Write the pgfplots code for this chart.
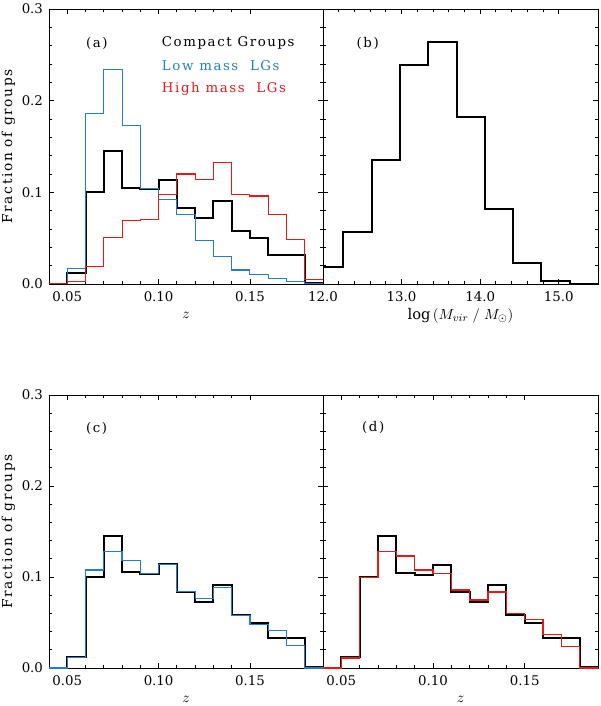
\documentclass[border=0pt]{standalone}
\usepackage{fontspec}
\setmainfont{DejaVu Serif}
\newfontfamily\lsfont{DejaVu Serif}[LetterSpace=12]
\usepackage{pgfplots}
\pgfplotsset{compat=1.18}
\definecolor{myblue}{RGB}{35,125,200}
\definecolor{myred}{RGB}{230,25,25}
\pgfplotsset{
  base/.style={scale only axis, anchor=south west,
    ymin=0, ymax=0.3, ytick={0,0.1,0.2,0.3}, minor y tick num=4,
    scaled ticks=false,
    major tick length=4pt, minor tick length=2.3pt,
    every tick/.style={black, line width=0.6pt},
    axis line style={line width=0.6pt},
    /pgf/number format/assume math mode=true,
    tick label style={font=\fontsize{10}{12}\selectfont},
    yticklabel style={/pgf/number format/fixed, /pgf/number format/fixed zerofill, /pgf/number format/precision=1},
    xticklabel shift=2pt, yticklabel shift=1pt,
    xlabel style={at={(axis description cs:0.5,-0.115)}, anchor=center, font=\fontsize{11}{13}\selectfont},
    ylabel style={at={(axis description cs:-0.148,0.5)}, anchor=center, font=\lsfont\fontsize{10.3}{12}\selectfont},
    clip=true},
  zax/.style={xmin=0.04, xmax=0.19, xtick={0.05,0.10,0.15}, minor x tick num=4,
    xticklabel style={/pgf/number format/fixed, /pgf/number format/fixed zerofill, /pgf/number format/precision=2},
    xlabel={$z$}},
  blk/.style={const plot, black, line width=1.5pt},
}
\begin{document}
\begin{tikzpicture}
% (a)
\begin{axis}[base, zax, at={(36.75pt,316.5pt)}, width=205.5pt, height=206.25pt,
  ylabel={Fraction of groups}]
\addplot[blk] coordinates {(0.04,0) (0.05,0.0120) (0.06,0.100) (0.07,0.145) (0.08,0.1045) (0.09,0.1035) (0.10,0.1138) (0.11,0.0830) (0.12,0.0720) (0.13,0.0910) (0.14,0.0580) (0.15,0.0505) (0.16,0.0318) (0.17,0.0318) (0.18,0.0015) (0.19,0.0015)};
\addplot[const plot, myblue, line width=0.8pt] coordinates {(0.04,0) (0.05,0.0165) (0.06,0.186) (0.07,0.234) (0.08,0.173) (0.09,0.104) (0.10,0.0925) (0.11,0.0760) (0.12,0.0475) (0.13,0.0300) (0.14,0.0153) (0.15,0.0100) (0.16,0.0060) (0.17,0.0025) (0.18,0.0010) (0.19,0.0010)};
\addplot[const plot, myred, line width=0.8pt] coordinates {(0.04,0) (0.05,0.0025) (0.06,0.0195) (0.07,0.0510) (0.08,0.0690) (0.09,0.0706) (0.10,0.0980) (0.11,0.1200) (0.12,0.1136) (0.13,0.1325) (0.14,0.0980) (0.15,0.0960) (0.16,0.0754) (0.17,0.0485) (0.18,0.0045) (0.19,0.0045)};
\node[anchor=west, font=\lsfont] at (rel axis cs:0.118,0.876) {(a)};
\node[anchor=west, font=\lsfont, black] at (rel axis cs:0.395,0.876) {Compact Groups};
\node[anchor=west, font=\lsfont, myblue] at (rel axis cs:0.395,0.793) {Low mass\ \ LGs};
\node[anchor=west, font=\lsfont, myred] at (rel axis cs:0.395,0.709) {High mass\ \ LGs};
\end{axis}
% (b)
\begin{axis}[base, at={(242.25pt,316.5pt)}, width=206.25pt, height=206.25pt,
  yticklabels={}, xmin=12.0, xmax=15.5, xtick={12,13,14,15}, minor x tick num=4,
  xticklabel style={/pgf/number format/fixed, /pgf/number format/fixed zerofill, /pgf/number format/precision=1},
  xlabel={log\,$(M_{vir}\;/\;M_{\odot})$}]
\addplot[blk] coordinates {(11.90,0.019) (12.26,0.0564) (12.62,0.135) (12.98,0.239) (13.34,0.2636) (13.70,0.1817) (14.06,0.0815) (14.42,0.0226) (14.78,0.0030) (15.14,0.0005) (15.50,0.0005)};
\node[anchor=west, font=\lsfont] at (rel axis cs:0.105,0.876) {(b)};
\end{axis}
% (c)
\begin{axis}[base, zax, at={(36.75pt,28.5pt)}, width=205.5pt, height=204.75pt,
  ylabel={Fraction of groups}]
\addplot[blk] coordinates {(0.04,0) (0.05,0.0117) (0.06,0.100) (0.07,0.145) (0.08,0.105) (0.09,0.1036) (0.10,0.114) (0.11,0.083) (0.12,0.072) (0.13,0.091) (0.14,0.0577) (0.15,0.0500) (0.16,0.0325) (0.17,0.0325) (0.18,0.0010) (0.19,0.0010)};
\addplot[const plot, myblue, line width=0.9pt] coordinates {(0.04,0) (0.05,0.0117) (0.06,0.1077) (0.07,0.1277) (0.08,0.118) (0.09,0.1036) (0.10,0.114) (0.11,0.084) (0.12,0.076) (0.13,0.0887) (0.14,0.0577) (0.15,0.048) (0.16,0.0416) (0.17,0.0248) (0.18,0) (0.19,0)};
\node[anchor=west, font=\lsfont] at (rel axis cs:0.118,0.879) {(c)};
\end{axis}
% (d)
\begin{axis}[base, zax, at={(242.25pt,28.5pt)}, width=206.25pt, height=204.75pt,
  yticklabels={}]
\addplot[blk] coordinates {(0.04,0) (0.05,0.0117) (0.06,0.100) (0.07,0.145) (0.08,0.104) (0.09,0.1026) (0.10,0.113) (0.11,0.083) (0.12,0.072) (0.13,0.091) (0.14,0.0577) (0.15,0.0500) (0.16,0.0325) (0.17,0.0325) (0.18,0.0010) (0.19,0.0010)};
\addplot[const plot, myred, line width=0.9pt] coordinates {(0.04,0) (0.05,0.011) (0.06,0.0996) (0.07,0.128) (0.08,0.123) (0.09,0.1077) (0.10,0.104) (0.11,0.0858) (0.12,0.0748) (0.13,0.0836) (0.14,0.060) (0.15,0.0529) (0.16,0.0372) (0.17,0.0237) (0.18,0) (0.19,0)};
\node[anchor=west, font=\lsfont] at (rel axis cs:0.125,0.88) {(d)};
\end{axis}
\pgfresetboundingbox
\path[use as bounding box] (0,0) rectangle (450pt,529.5pt);
\end{tikzpicture}
\end{document}
